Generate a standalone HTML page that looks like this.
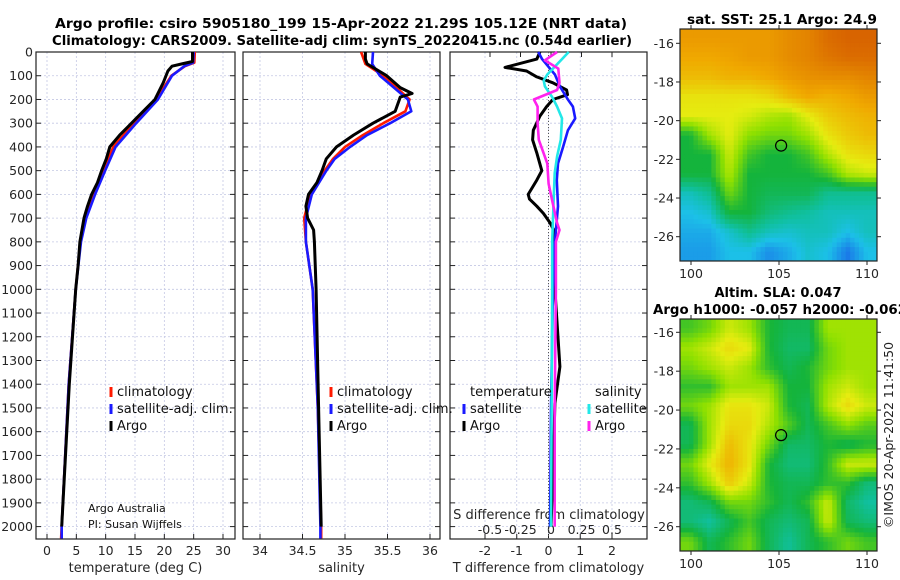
<!DOCTYPE html>
<html><head><meta charset="utf-8"><style>
html,body{margin:0;padding:0;background:#fff;width:900px;height:580px;overflow:hidden}
svg{font-family:"DejaVu Sans","Liberation Sans",sans-serif}
</style></head><body>
<svg id="s" width="900" height="580" xmlns="http://www.w3.org/2000/svg">
<text x="341" y="28" font-size="13" font-weight="bold" text-anchor="middle" textLength="572" lengthAdjust="spacingAndGlyphs">Argo profile: csiro 5905180_199 15-Apr-2022 21.29S 105.12E (NRT data)</text>
<text x="342" y="45" font-size="13" font-weight="bold" text-anchor="middle" textLength="580" lengthAdjust="spacingAndGlyphs">Climatology: CARS2009. Satellite-adj clim: synTS_20220415.nc (0.54d earlier)</text>
<text x="782" y="24" font-size="13" font-weight="bold" text-anchor="middle" textLength="190" lengthAdjust="spacingAndGlyphs">sat. SST: 25.1 Argo: 24.9</text>
<text x="778" y="297" font-size="13" font-weight="bold" text-anchor="middle">Altim. SLA: 0.047</text>
<text x="653" y="314" font-size="13" font-weight="bold" textLength="254" lengthAdjust="spacingAndGlyphs">Argo h1000: -0.057 h2000: -0.062</text>
<text transform="translate(893,435) rotate(-90)" font-size="12.5" text-anchor="middle" fill="#222">©IMOS 20-Apr-2022 11:41:50</text>
</svg>
<script>
// ---------- data ----------
const depthTicks=[0,100,200,300,400,500,600,700,800,900,1000,1100,1200,1300,1400,1500,1600,1700,1800,1900,2000];
const tTicks=[0,5,10,15,20,25,30];
const sTicks=[34,34.5,35,35.5,36];
const dTTicks=[-2,-1,0,1,2];
const dSTicks=[-0.5,-0.25,0,0.25,0.5];
const dSLabels=["-0.5","-0.25","0","0.25","0.5"];
const tArgoDepth=[0,40,50,60,80,130,200,250,300,350,400,450,500,550,600,650,700,800,900,1000,1400,2000];
const tArgo=[24.8,24.8,23.0,21.3,20.6,19.8,18.4,16.4,14.4,12.4,10.7,10.1,9.3,8.6,7.6,6.9,6.3,5.6,5.3,4.9,3.8,2.5];
const tClimDepth=[0,45,60,100,200,300,400,500,600,700,800,1000,1400,2000,2050];
const tClim=[25.2,25.1,23.5,21.2,18.6,14.8,11.3,9.6,7.9,6.5,5.7,4.9,3.7,2.5,2.4];
const tSat=[25.0,24.9,23.4,21.3,18.9,15.2,11.7,9.9,8.2,6.7,5.8,4.9,3.7,2.5,2.5];
const sArgoDepth=[0,30,50,100,150,175,190,200,250,300,350,400,450,500,550,600,650,700,750,800,1000,1500,2000];
const sArgo=[35.24,35.24,35.26,35.49,35.65,35.79,35.65,35.64,35.59,35.33,35.1,34.9,34.78,34.73,34.67,34.57,34.54,34.56,34.63,34.64,34.66,34.69,34.72];
const sClimDepth=[0,50,100,200,250,300,350,400,450,500,600,700,800,1000,1500,2000,2050];
const sClim=[35.19,35.24,35.45,35.76,35.71,35.45,35.21,35.0,34.86,34.76,34.59,34.52,34.54,34.62,34.68,34.72,34.72];
const sSat=[35.33,35.32,35.41,35.74,35.78,35.53,35.26,35.06,34.88,34.78,34.61,34.54,34.54,34.62,34.68,34.71,34.71];
const dTArgoDepth=[0,30,65,80,105,130,160,180,200,230,270,330,370,425,500,540,600,620,650,680,720,760,800,940,1000,1326,1480,1790,2000];
const dTArgo=[-0.27,-0.37,-1.37,-0.69,-0.37,0.14,0.57,0.6,0.14,-0.06,-0.27,-0.48,-0.5,-0.37,-0.21,-0.37,-0.64,-0.6,-0.37,-0.16,0.05,0.2,0.15,0.2,0.2,0.36,0.2,0.14,0.08];
const dTSatDepth=[0,30,95,145,200,230,280,330,400,470,540,650,800,1000,1500,2000];
const dTSat=[-0.32,-0.2,0.2,0.36,0.61,0.77,0.84,0.61,0.46,0.3,0.26,0.3,0.2,0.14,0.08,0.05];
const dSSatDepth=[0,30,95,120,145,190,230,280,370,440,510,650,800,1000,2000];
const dSSat=[0.145,0.09,-0.03,-0.06,-0.05,0.01,0.05,0.09,0.08,0.05,0.03,0.02,0.01,0.01,0.0];
const dSArgoDepth=[0,35,70,130,160,200,230,300,370,470,555,650,720,750,800,940,1000,1500,2000];
const dSArgo=[0.05,-0.05,0.06,0.07,0.05,-0.14,-0.11,-0.11,-0.1,-0.03,-0.02,0.02,0.05,0.07,0.04,0.04,0.04,0.03,0.03];
const mapXTicks=[100,105,110];
const mapYTicks=[-16,-18,-20,-22,-24,-26];
const sstField=[
[.85,.85,.85,.85,.85,.88,.9,.95,.97,.97],
[.82,.82,.83,.85,.85,.88,.9,.93,.95,.95],
[.78,.78,.8,.8,.82,.85,.87,.88,.88,.9],
[.7,.7,.7,.7,.72,.78,.82,.8,.82,.85],
[.68,.68,.68,.66,.62,.6,.68,.75,.78,.8],
[.45,.6,.68,.58,.55,.55,.6,.7,.75,.78],
[.45,.45,.65,.5,.45,.45,.5,.62,.7,.72],
[.45,.45,.62,.45,.45,.45,.45,.5,.62,.65],
[.3,.35,.55,.45,.42,.42,.42,.35,.35,.35],
[.25,.28,.45,.45,.38,.35,.33,.3,.3,.3],
[.22,.22,.28,.35,.3,.28,.3,.3,.25,.3],
[.2,.2,.25,.25,.18,.22,.28,.25,.15,.25]];
const slaField=[
[.5,.55,.65,.6,.46,.42,.42,.6,.6,.6],
[.6,.65,.72,.68,.46,.4,.4,.55,.6,.6],
[.55,.6,.65,.6,.48,.42,.46,.55,.6,.6],
[.48,.48,.6,.6,.6,.45,.45,.6,.65,.6],
[.55,.6,.7,.7,.65,.46,.42,.62,.72,.65],
[.42,.6,.72,.72,.62,.52,.42,.5,.58,.52],
[.42,.6,.78,.7,.55,.4,.4,.46,.42,.46],
[.55,.68,.8,.7,.46,.38,.38,.48,.65,.65],
[.48,.6,.75,.65,.46,.42,.42,.48,.48,.38],
[.38,.42,.55,.55,.48,.42,.48,.65,.4,.33],
[.38,.33,.42,.5,.42,.38,.42,.65,.42,.38],
[.55,.42,.48,.55,.42,.34,.42,.48,.55,.5]];
const argoLon=[105.12], argoLat=[-21.29];

// ---------- helpers ----------
const S=document.getElementById('s');const NS='http://www.w3.org/2000/svg';
function mk(tag,at,parent){const e=document.createElementNS(NS,tag);for(const k in at)e.setAttribute(k,at[k]);(parent||S).appendChild(e);return e;}
const top0=52,bot=539,ppm=0.2373;
const yD=d=>top0+d*ppm;
function lin(d0,d1,p0,p1){return v=>p0+(v-d0)*(p1-p0)/(d1-d0);}
const panels=[
 {name:'temperature',x0:36,x1:235,f:lin(0,30,47,223),ticks:tTicks,labels:tTicks.map(String),xl:'temperature (deg C)'},
 {name:'salinity',x0:243,x1:440,f:lin(34,36,260,430),ticks:sTicks,labels:sTicks.map(String),xl:'salinity'},
 {name:'difference',x0:450,x1:647,f:lin(-2,2,485,612),ticks:dTTicks,labels:dTTicks.map(String),xl:'T difference from climatology'}];
const fS=lin(-0.5,0.5,490,612);

panels.forEach((p,i)=>{
  const g=mk('g',{});
  
  
  depthTicks.forEach(d=>{const l=mk('line',{x1:p.x0,x2:p.x1,y1:yD(d),y2:yD(d),stroke:'#c4c8e4','stroke-width':0.8,'stroke-dasharray':'2,2'},g);
    
    
    mk('line',{x1:p.x0,x2:p.x0+5,y1:yD(d),y2:yD(d),stroke:'#222'},g);mk('line',{x1:p.x1-5,x2:p.x1,y1:yD(d),y2:yD(d),stroke:'#222'},g);});
  p.ticks.forEach((t,j)=>{const x=p.f(t);const l=mk('line',{x1:x,x2:x,y1:top0,y2:bot,stroke:'#c4c8e4','stroke-width':0.8,'stroke-dasharray':'2,2'},g);
    
    
    mk('line',{x1:x,x2:x,y1:bot-5,y2:bot,stroke:'#222'},g);
    const tx=mk('text',{x:x,y:555,'font-size':12.5,'text-anchor':'middle',fill:'#262626'},g);tx.textContent=p.labels[j];
    
    });
  const r=mk('rect',{x:p.x0,y:top0,width:p.x1-p.x0,height:bot-top0,fill:'none',stroke:'#222','stroke-width':1.2},g);
  
  
  const xl=mk('text',{x:(p.x0+p.x1)/2,y:572,'font-size':13,'text-anchor':'middle',fill:'#262626'},g);xl.textContent=p.xl;
  
  
});
depthTicks.forEach(d=>{const t=mk('text',{x:33,y:yD(d)+4.5,'font-size':12.5,'text-anchor':'end',fill:'#262626'});t.textContent=d;
  
  });
const sdt=mk('text',{x:549,y:519,'font-size':13,'text-anchor':'middle',fill:'#262626'});sdt.textContent='S difference from climatology';


dSTicks.forEach((t,j)=>{const x=fS(t);mk('line',{x1:x,x2:x,y1:top0,y2:top0+5,stroke:'#222'});const tx=mk('text',{x:x,y:534,'font-size':12.5,'text-anchor':'middle',fill:'#262626'});tx.textContent=dSLabels[j];
  
  });
mk('line',{x1:548.5,x2:548.5,y1:top0,y2:bot,stroke:'#555','stroke-dasharray':'1,2'});

function series(vals,depths,fx,color,name,w){
  const pts=vals.map((v,k)=>fx(v).toFixed(1)+','+yD(depths[k]).toFixed(1)).join(' ');
  const pl=mk('polyline',{points:pts,fill:'none',stroke:color,'stroke-width':w||2.6,'stroke-linejoin':'round'});
  
  
}
const fT=panels[0].f,fSal=panels[1].f,fdT=panels[2].f;
series(tClim,tClimDepth,fT,'#ff1a00','temperature-climatology-line');
series(tSat,tClimDepth,fT,'#1a1aff','temperature-satellite-line');
series(tArgo,tArgoDepth,fT,'#000','temperature-argo-line',3);
series(sClim,sClimDepth,fSal,'#ff1a00','salinity-climatology-line');
series(sSat,sClimDepth,fSal,'#1a1aff','salinity-satellite-line');
series(sArgo,sArgoDepth,fSal,'#000','salinity-argo-line',3);
series(dTArgo,dTArgoDepth,fdT,'#000','t-diff-argo-line',3);
series(dTSat,dTSatDepth,fdT,'#1a1aff','t-diff-satellite-line');
series(dSSat,dSSatDepth,fS,'#22e8e8','s-diff-satellite-line');
series(dSArgo,dSArgoDepth,fS,'#ff22ee','s-diff-argo-line');

function legend(x,y,color,label,name){
  mk('line',{x1:x,x2:x,y1:y-8,y2:y+2,stroke:color,'stroke-width':3});
  const t=mk('text',{x:x+6,y:y+1,'font-size':13,fill:'#111'});t.textContent=label;
  
  
}
legend(111,395,'#ff1a00','climatology','legend-climatology');
legend(111,412,'#1a1aff','satellite-adj. clim.','legend-satellite');
legend(111,429,'#000','Argo','legend-argo');
legend(331,395,'#ff1a00','climatology','legend-climatology-2');
legend(331,412,'#1a1aff','satellite-adj. clim.','legend-satellite-2');
legend(331,429,'#000','Argo','legend-argo-2');
const lt=mk('text',{x:470,y:396,'font-size':13,fill:'#111'});lt.textContent='temperature';


const ls=mk('text',{x:595,y:396,'font-size':13,fill:'#111'});ls.textContent='salinity';


legend(464,412,'#1a1aff','satellite','legend-t-satellite');
legend(464,429,'#000','Argo','legend-t-argo');
legend(589,412,'#22e8e8','satellite','legend-s-satellite');
legend(589,429,'#ff22ee','Argo','legend-s-argo');
const a1=mk('text',{x:88,y:512,'font-size':11,fill:'#111'});a1.textContent='Argo Australia';


const a2=mk('text',{x:88,y:528,'font-size':11,fill:'#111'});a2.textContent='PI: Susan Wijffels';



// ---------- maps ----------
const stops=[[0.12,[26,100,232]],[0.25,[28,192,232]],[0.33,[16,192,160]],[0.45,[20,180,60]],[0.58,[142,224,0]],[0.68,[230,236,16]],[0.82,[240,168,0]],[0.97,[216,100,0]]];
function cmap(v){if(v<=stops[0][0])return stops[0][1];for(let i=1;i<stops.length;i++){if(v<=stops[i][0]){const a=stops[i-1],b=stops[i];const t=(v-a[0])/(b[0]-a[0]);return a[1].map((c,k)=>Math.round(c+(b[1][k]-c)*t));}}return stops[stops.length-1][1];}
function sample(F,r,c){const R=F.length,C=F[0].length;r=Math.max(0,Math.min(R-1,r));c=Math.max(0,Math.min(C-1,c));const r0=Math.floor(r),c0=Math.floor(c),r1=Math.min(R-1,r0+1),c1=Math.min(C-1,c0+1),fr=r-r0,fc=c-c0;
 return F[r0][c0]*(1-fr)*(1-fc)+F[r0][c1]*(1-fr)*fc+F[r1][c0]*fr*(1-fc)+F[r1][c1]*fr*fc;}
function drawMap(F,x0,y0,x1,y1,latTop,latBot,name){
  const g=mk('g',{});
  
  
  const fx=lin(100,110,691,867);const fy=lin(-16,-26,latTop,latBot);
  const lat0=-16+(y0-latTop)/(latBot-latTop)*-10;const lat1=-16+(y1-latTop)/(latBot-latTop)*-10;
  const lon0=100+(x0-691)/17.6, lon1=100+(x1-691)/17.6;
  const nx=44,ny=50,cw=(x1-x0)/nx,ch=(y1-y0)/ny;
  for(let j=0;j<ny;j++)for(let i=0;i<nx;i++){
    const lon=lon0+(i+0.5)/nx*(lon1-lon0), lat=lat0+(j+0.5)/ny*(lat1-lat0);
    const c=(lon-lon0)/(lon1-lon0)*F[0].length-0.5, r=(lat0-lat)/(lat0-lat1)*F.length-0.5;
    const col=cmap(sample(F,r,c));
    mk('rect',{x:(x0+i*cw).toFixed(2),y:(y0+j*ch).toFixed(2),width:(cw+0.4).toFixed(2),height:(ch+0.4).toFixed(2),fill:'rgb('+col.join(',')+')'},g);
  }
  const fr=mk('rect',{x:x0,y:y0,width:x1-x0,height:y1-y0,fill:'none',stroke:'#222','stroke-width':1.2},g);
  
  
  mapXTicks.forEach(t=>{const x=fx(t);mk('line',{x1:x,x2:x,y1:y1,y2:y1+4,stroke:'#222'},g);mk('line',{x1:x,x2:x,y1:y0-4,y2:y0,stroke:'#222'},g);
    const tx=mk('text',{x:x,y:y1+17,'font-size':12.5,'text-anchor':'middle',fill:'#262626'},g);tx.textContent=t;
    
    });
  mapYTicks.forEach(t=>{const y=fy(t);mk('line',{x1:x0-4,x2:x0,y1:y,y2:y,stroke:'#222'},g);mk('line',{x1:x1,x2:x1+4,y1:y,y2:y,stroke:'#222'},g);
    const tx=mk('text',{x:x0-6,y:y+4.5,'font-size':12.5,'text-anchor':'end',fill:'#262626'},g);tx.textContent=t;
    
    });
  const m=mk('circle',{cx:fx(argoLon[0]),cy:fy(argoLat[0]),r:5.5,fill:'none',stroke:'#000','stroke-width':1.2},g);
  
  
}
drawMap(sstField,680,29,877,261,43.3,236.7,'sst-map');
drawMap(slaField,680,319,877,551,332.3,526.7,'sla-map');
</script>
</body></html>
